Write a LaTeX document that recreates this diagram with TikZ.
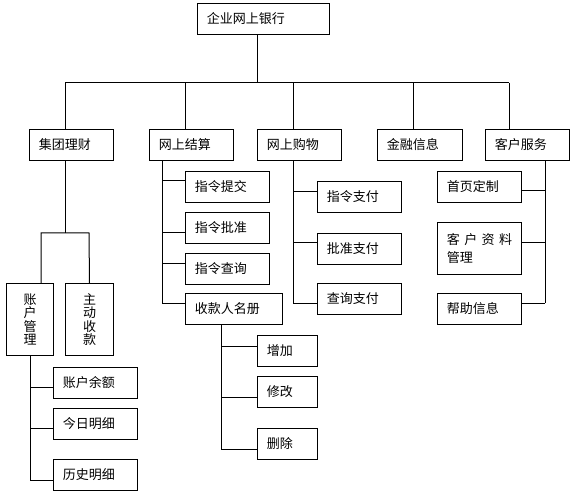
\documentclass[tikz,border=0pt]{standalone}
\usepackage{fontspec}
\newfontfamily\cjkfont{Noto Sans CJK SC}
\usetikzlibrary{positioning}
\newcommand{\boxfont}{\cjkfont\fontsize{9.75}{11.7}\selectfont}
\tikzset{
  line/.style={black,line width=0.75pt},
  box/.style={draw=black,line width=0.75pt,anchor=north west,
              minimum height=23.25pt,text width=#1,inner xsep=7pt,inner ysep=2pt,
              align=left,font=\boxfont},
  box/.default=49pt,
  vbox/.style={draw=black,line width=0.75pt,anchor=north west,align=center,
               inner sep=0pt,minimum height=54pt,
               font=\cjkfont\fontsize{9.75}{9.9}\selectfont},
}
\begin{document}
\begin{tikzpicture}[x=0.75pt,y=-0.75pt]
  \path[use as bounding box] (0,0) rectangle (573,498);

  % root
  \node[box=85pt] (bank) at (197,3) {企业网上银行};

  % first level
  \node[box] (jt) at (29,129)  {集团理财};
  \node[box] (js) at (149,129) {网上结算};
  \node[box] (gw) at (257,129) {网上购物};
  \node[box=50pt] (jr) at (377,129) {金融信息};
  \node[box] (kf) at (485,129) {客户服务};

  \draw[line] (257,0 |- bank.south) -- (257,83);
  \draw[line] (65,83) -- (509,83);
  \foreach \n/\x in {jt/65,js/185,gw/293,jr/413,kf/509}
    \draw[line] (\x,83) -- (\x,0 |- \n.north);

  % 集团理财
  \node[vbox,minimum width=35.25pt] (zhgl) at (6,283) {账\\户\\管\\理};
  \node[vbox,minimum width=36pt] (zdsk) at (65,283) {主\\动\\收\\款};
  \draw[line] (65,0 |- jt.south) -- (65,233);
  \draw[line] (41,0 |- zhgl.north) |- (89,233) -- (zdsk.north);

  \node[box] (zhye) at (53,367) {账户余额};
  \node[box] (jrmx) at (53,408) {今日明细};
  \node[box] (lsmx) at (53,459) {历史明细};
  \draw[line] (30,0 |- zhgl.south) -- (30,480);
  \foreach \n/\y in {zhye/387,jrmx/428,lsmx/480}
    \draw[line] (30,\y) -- (\n.west |- 0,\y);

  % 网上结算
  \node[box] (zltj) at (185,171) {指令提交};
  \node[box] (zlpz) at (185,212) {指令批准};
  \node[box] (zlcx) at (185,253) {指令查询};
  \node[box=58.75pt] (skr) at (185,293) {收款人名册};
  \draw[line] (162,0 |- js.south) -- (162,303);
  \foreach \n/\y in {zltj/181,zlpz/233,zlcx/264,skr/303}
    \draw[line] (162,\y) -- (\n.west |- 0,\y);

  \node[box=31pt] (zj) at (257,335) {增加};
  \node[box=31pt] (xg) at (257,376) {修改};
  \node[box=31pt] (sc) at (257,428) {删除};
  \draw[line] (221,0 |- skr.south) -- (221,449);
  \foreach \n/\y in {zj/346,xg/397,sc/449}
    \draw[line] (221,\y) -- (\n.west |- 0,\y);

  % 网上购物
  \node[box] (zlzf) at (317,181) {指令支付};
  \node[box] (pzzf) at (317,233) {批准支付};
  \node[box] (cxzf) at (317,283) {查询支付};
  \draw[line] (293,0 |- gw.south) -- (293,303);
  \foreach \n/\y in {zlzf/192,pzzf/243,cxzf/303}
    \draw[line] (293,\y) -- (\n.west |- 0,\y);

  % 客户服务
  \node[box] (sydz) at (437,171) {首页定制};
  \node[box,minimum height=39pt] (kzgl) at (437,222)
    {\makebox[49pt][s]{客\hfill 户\hfill 资\hfill 料}\\[2pt]管理};
  \node[box] (bzxx) at (437,293) {帮助信息};
  \draw[line] (545,0 |- kf.south) -- (545,303);
  \foreach \n/\y in {sydz/191,kzgl/243,bzxx/303}
    \draw[line] (545,\y) -- (\n.east |- 0,\y);
\end{tikzpicture}
\end{document}
